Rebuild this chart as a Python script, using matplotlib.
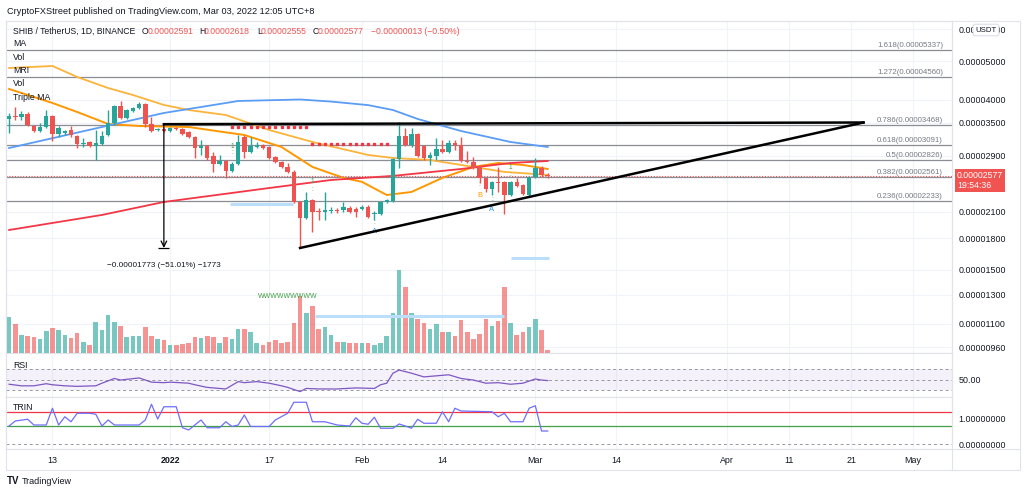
import numpy as np
import pandas as pd
import matplotlib
matplotlib.use("Agg")
import matplotlib.pyplot as plt
import matplotlib.dates as mdates
from matplotlib.ticker import NullLocator
from matplotlib.patches import Rectangle
from matplotlib.lines import Line2D

plt.rcParams['font.family'] = ['Liberation Sans', 'DejaVu Sans']

# ---- data (prices in units of 1e-8 USDT) ----
SCALE = 1e-8
start = "2021-12-06"
opens = [3580, 3644, 3623, 3687, 3440, 3342, 3420, 3644, 3285, 3304, 3362, 3247, 3101,
         3137, 3065, 3101, 3266, 3500, 3860, 3602, 3751, 3816, 3905, 3480, 3362, 3381,
         3342, 3401, 3381, 3323, 3229, 3030, 3065, 2894, 2764, 2812, 2655, 2764, 3229,
         2961, 3048, 3083, 3048, 2877, 2796, 2717, 2640, 2220, 2024, 2246, 2108, 2096,
         2108, 2120, 2120, 2144, 2132, 2132, 2157, 2072, 2072, 2220, 2233, 2844, 3247,
         3083, 3285, 3065, 2861, 2894, 3013, 2961, 3119, 3083, 2812, 2796, 2732, 2551,
         2395, 2493, 2493, 2311, 2493, 2451, 2311, 2565, 2701, 2591]
closes = [3650, 3623, 3687, 3460, 3342, 3420, 3644, 3285, 3401, 3342, 3266, 3101, 3119,
          3065, 3119, 3247, 3500, 3860, 3602, 3772, 3816, 3905, 3480, 3342, 3381, 3342,
          3401, 3381, 3285, 3229, 3030, 3065, 2861, 2764, 2812, 2655, 2764, 3137, 2961,
          3065, 3083, 3030, 2861, 2796, 2717, 2640, 2220, 2024, 2246, 2096, 2096, 2120,
          2120, 2108, 2157, 2096, 2096, 2157, 2036, 2084, 2220, 2246, 2844, 3247, 3083,
          3285, 2894, 2861, 2911, 3013, 2961, 3119, 3083, 2812, 2796, 2701, 2551, 2395,
          2493, 2479, 2311, 2493, 2437, 2325, 2565, 2701, 2590, 2577]
highs = [3700, 3838, 3751, 3730, 3460, 3500, 3772, 3665, 3440, 3362, 3440, 3266, 3210,
         3155, 3362, 3342, 3772, 3882, 3973, 3800, 3838, 3950, 3928, 3623, 3401, 3401,
         3420, 3420, 3401, 3342, 3247, 3173, 3083, 2961, 2911, 2828, 2796, 3266, 3266,
         3229, 3137, 3101, 3065, 2894, 2812, 2780, 2672, 2233, 2352, 2260, 2144, 2352,
         2157, 2144, 2220, 2170, 2157, 2183, 2183, 2108, 2233, 2260, 2861, 3520, 3401,
         3401, 3304, 3083, 2961, 3210, 3173, 3173, 3173, 3229, 2978, 2877, 2748, 2551,
         2508, 2717, 2508, 2508, 2551, 2465, 2580, 2861, 2732, 2618]
lows = [3300, 3561, 3561, 3440, 3323, 3323, 3401, 3155, 3229, 3266, 3229, 3030, 3048,
        3048, 2828, 3083, 3247, 3460, 3581, 3581, 3730, 3794, 3420, 3323, 3342, 3323,
        3323, 3362, 3266, 3210, 2861, 2911, 2828, 2640, 2748, 2551, 2640, 2748, 2861,
        2944, 3030, 3013, 2844, 2780, 2701, 2625, 2207, 1703, 2010, 1868, 2001, 2001,
        2084, 2084, 2096, 2084, 2036, 2120, 2024, 2001, 2060, 2207, 2220, 2701, 3065,
        3048, 2877, 2828, 2748, 2828, 2944, 2944, 2996, 2796, 2780, 2686, 2479, 2352,
        2311, 2352, 2072, 2297, 2423, 2311, 2283, 2551, 2565, 2555]
volumes = [36, 29, 18, 17, 16, 14, 22, 25, 23, 18, 15, 20, 11, 8, 31, 23, 38, 31, 27, 16,
           17, 17, 26, 17, 14, 13,
           8, 8, 9, 10, 16, 15, 17, 16, 10, 16, 14, 24, 24, 21, 10, 8, 11, 13, 10, 11,
           30, 57, 40, 47, 24, 26, 18, 11, 11, 10, 10, 10, 10, 8, 10, 17, 40, 83, 66, 40,
           34, 30, 24, 29, 21, 21, 17, 33, 21, 14, 19, 34, 27, 32, 66, 30, 18, 21, 26, 34,
           23, 3]

# moving averages (day offset from 2022-01-01, price)
ma_blue_days = [-26, -11, -1, 11, 21, 26, 32, 36, 40, 47, 55, 61]
ma_blue = [3030, 3420, 3708, 3973, 4008, 3960, 3880, 3772, 3582, 3342, 3137, 3048]
ma_red_days = [-26, -11, -1, 16, 26, 36, 47, 55, 61]
ma_red = [1889, 2060, 2220, 2406, 2520, 2580, 2685, 2779, 2812]
ma_fast_days = [-26, -19, -15, -10, -5, 3, 12, 18, 23, 28, 31, 35, 39, 44, 49, 53, 57, 61]
ma_fast = [4258, 3928, 3729, 3480, 3440, 3420, 3266, 3048, 2717, 2551, 2493, 2311, 2352,
           2551, 2717, 2779, 2748, 2685]
ma_slow_days = [-26, -19, -15, -10, -6, -1, 3, 9, 16, 23, 32, 36, 42, 47, 54, 61]
ma_slow = [4805, 4862, 4563, 4282, 4113, 3883, 3772, 3665, 3362, 3137, 2911, 2861, 2828,
           2748, 2640, 2595]

fib_levels = ["1.618", "1.272", "0.786", "0.618", "0.5", "0.382", "0.236"]
fib_prices = [5337, 4560, 3468, 3091, 2826, 2561, 2233]

rsi_days = [-26, -24, -22, -20, -19, -17, -15, -12, -11, -9, -8, -5, -3, -1, 0, 3, 4, 6, 8,
            9, 11, 12, 14, 16, 18, 19, 21, 22, 24, 27, 30, 33, 34, 35, 36, 37, 38, 39, 41,
            43, 45, 47, 49, 51, 53, 55, 57, 59, 60, 61]
rsi = [41, 38, 38, 42, 40, 38, 37, 38, 43, 52, 49, 53, 45, 44, 45, 43, 40, 35, 33, 32, 46,
       44, 46, 43, 38, 35, 27, 33, 32, 32, 34, 33, 40, 43, 62, 68, 65, 62, 55, 57, 59, 52,
       49, 43, 44, 41, 43, 51, 49, 48]

trin_days = [-26, -25, -23, -22, -20, -19, -18, -17, -16, -15, -13, -12, -11, -10, -9, -5,
             -4, -3, -2, -1, 1, 2, 3, 5, 6, 8, 9, 10, 11, 12, 13, 16, 17, 19, 20, 22, 23,
             25, 27, 29, 30, 31, 32, 33, 34, 36, 37, 38, 39, 40, 41, 43, 44, 45, 46, 47,
             52, 53, 54, 55, 57, 58, 59, 60, 61]
trin = [0.72, 0.92, 0.99, 0.76, 0.76, 1.43, 0.76, 1.09, 0.89, 1.23, 1.23, 1.19, 0.72,
        0.96, 0.76, 0.76, 0.96, 1.59, 1.0, 1.49, 1.49, 0.65, 0.56, 0.96, 0.65, 0.65, 0.89,
        0.70, 0.76, 1.16, 0.70, 0.70, 0.96, 1.23, 1.67, 1.67, 0.89, 0.89, 0.76, 0.72, 1.05,
        0.83, 0.79, 1.07, 0.63, 0.63, 0.80, 0.72, 0.63, 0.99, 0.83, 0.83, 1.29, 0.89, 1.43,
        1.32, 1.29, 1.09, 1.23, 0.89, 0.89, 1.43, 1.53, 0.52, 0.52]
trin_upper, trin_lower = 1.28, 0.72

price_ticks = [6000, 5000, 4000, 3500, 2900, 2100, 1800, 1500, 1300, 1100, 960]
tick_dates = ['2021-12-13', '2022-01-01', '2022-01-17', '2022-02-01', '2022-02-14',
              '2022-03-01', '2022-03-14', '2022-04-01', '2022-04-11', '2022-04-21',
              '2022-05-01']
tick_labels = ['13', '2022', '17', 'Feb', '14', 'Mar', '14', 'Apr', '11', '21', 'May']

dots_row1_days = list(range(10, 23))
dots_row2_days = list(range(23, 36))
dots_prices = [3420, 3101]

marks = [(10, 3048, '1', 'g'), (10, 2950, ':', 'g'), (23, 2493, '1', 'g'),
         (23, 2379, ':', 'g'), (55, 2701, '1', 'g'), (55, 2595, ':', 'g'),
         (50, 2451, ':', 'g'), (50, 2311, 'B', 'o'), (33, 1978, ':', 'g'),
         (33, 1868, 'A', 'b'), (52, 2246, ':', 'g'), (52, 2120, 'A', 'b')]

measure_top, measure_low = 3476, 1703
apex_day, apex_price = 112, 3510

# ---- colours ----
TEAL = '#26a69a'
RED = '#ef5350'
DARK = '#131722'
GRID = '#f0f3fa'
BORDER = '#e0e3eb'
MARK_COL = {'g': '#43a047', 'o': '#ff9800', 'b': '#2196f3'}

W, H = 1024, 497
fig = plt.figure(figsize=(W / 100, H / 100), dpi=100)


def fx(px):
    return px / W


def fy(py):
    return 1 - py / H


L, R = 6, 952
ax = fig.add_axes([fx(L), fy(353), fx(R) - fx(L), fy(21) - fy(353)])
axr = fig.add_axes([fx(L), fy(397), fx(R) - fx(L), fy(353) - fy(397)], sharex=ax)
axt = fig.add_axes([fx(L), fy(449), fx(R) - fx(L), fy(397) - fy(449)], sharex=ax)

base = mdates.date2num(pd.Timestamp('2022-01-01'))
dates = pd.date_range(start, periods=len(opens))
x = mdates.date2num(dates)
o = np.array(opens) * SCALE
c = np.array(closes) * SCALE
h = np.array(highs) * SCALE
lo = np.array(lows) * SCALE
col = np.where(c >= o, TEAL, RED)

ax.set_yscale('log')
ax.set_ylim(9.296e-6, 6.3007e-5)
ax.set_xlim(base - 26.5, base + 126.3)

# volume (behind candles)
axv = ax.twinx()
axv.set_ylim(0, 332)
axv.bar(x, volumes, width=0.74, color=col, alpha=0.62, linewidth=0)
axv.hlines(37, base + 23.4, base + 54, color='#bbdefb', lw=2.2)
axv.text(base + 19, 57, 'WWWWWWWWW', color='#43a047', fontsize=5, ha='center', va='center')
axv.set_yticks([])
for s in axv.spines.values():
    s.set_visible(False)

# fib levels
for lvl, p in zip(fib_levels, fib_prices):
    ax.axhline(p * SCALE, color='#8a8d96', lw=0.9, zorder=2)
    ax.text(0.9905, p * SCALE * 1.004, f"{lvl}({p * SCALE:.8f})", transform=ax.get_yaxis_transform(),
            ha='right', va='bottom', fontsize=5.7, color='#787b86', zorder=3)

# moving averages
ax.plot(base + np.array(ma_slow_days), np.array(ma_slow) * SCALE, color='#fbb33a', lw=1.3, zorder=3)
ax.plot(base + np.array(ma_fast_days), np.array(ma_fast) * SCALE, color='#ff9800', lw=1.4, zorder=3)
ax.plot(base + np.array(ma_blue_days), np.array(ma_blue) * SCALE, color='#5b9cf6', lw=1.3, zorder=3)
ax.plot(base + np.array(ma_red_days), np.array(ma_red) * SCALE, color='#f23645', lw=1.3, zorder=3)

# candles
ax.vlines(x, lo, h, colors=col, lw=1.0, zorder=4)
body = np.maximum(np.abs(c - o), o * 0.004)
ax.bar(x, body, bottom=np.minimum(o, c), width=0.72, color=col, linewidth=0, zorder=5)

# last price line
last = closes[-1] * SCALE
ax.axhline(last, color=RED, lw=0.8, ls=(0, (1, 1.5)), zorder=3)

# dotted markers
ax.plot(base + np.array(dots_row1_days), [dots_prices[0] * SCALE] * len(dots_row1_days),
        ls='none', marker='s', ms=1.8, color='#f23645', zorder=4)
ax.plot(base + np.array(dots_row2_days), [dots_prices[1] * SCALE] * len(dots_row2_days),
        ls='none', marker='s', ms=1.8, color='#f23645', zorder=4)
ax.hlines(2194 * SCALE, base + 9.7, base + 19.9, color='#bbdefb', lw=2.2, zorder=3)
ax.hlines(1608 * SCALE, base + 55, base + 61.2, color='#bbdefb', lw=2.2, zorder=3)

for d, p, t, k in marks:
    ax.text(base + d, p * SCALE, t, color=MARK_COL[k], fontsize=5.5 if t.isalpha() else 4.8,
            ha='center', va='center', zorder=6)

# triangle
ax.plot([base - 1, base + apex_day], [measure_top * SCALE, apex_price * SCALE],
        color='black', lw=1.8, zorder=6)
ax.plot([base + 21, base + apex_day], [measure_low * SCALE, apex_price * SCALE],
        color='black', lw=1.8, zorder=6)

# measure
ax.annotate('', xy=(base - 1, measure_low * SCALE), xytext=(base - 1, measure_top * SCALE),
            arrowprops=dict(arrowstyle='->', color='black', lw=0.9, shrinkA=0, shrinkB=0), zorder=6)
ax.hlines(measure_low * SCALE, base - 1.9, base - 0.1, color='black', lw=0.9, zorder=6)
diff = measure_low - measure_top
ax.text(base - 1, 1535 * SCALE,
        f"\u2212{abs(diff) * SCALE:.8f} (\u2212{abs(diff) / measure_top * 100:.2f}%) \u2212{abs(diff)}",
        ha='center', va='center', fontsize=5.9, color=DARK, zorder=6)

# price label
ax.annotate(f"{last:.8f}\n19:54:36", xy=(1, last), xycoords=('axes fraction', 'data'),
            xytext=(3.5, 3.5), textcoords='offset points', ha='left', va='top', color='white',
            fontsize=6.3, linespacing=1.15, annotation_clip=False, zorder=10,
            bbox=dict(boxstyle='square,pad=0.25', fc='#f05350', ec='none'))

# axis styling
tick_x = mdates.date2num(pd.to_datetime(tick_dates))
for a in (ax, axr, axt):
    a.set_xticks(tick_x)
    a.grid(True, color=GRID, lw=0.8, zorder=0)
    a.set_axisbelow(True)
    for s in a.spines.values():
        s.set_color(BORDER)
        s.set_linewidth(0.8)
    a.yaxis.tick_right()
    a.tick_params(axis='y', length=0, pad=4.5, labelsize=6.4, labelcolor=DARK)
    a.tick_params(axis='x', length=0)

ax.yaxis.set_minor_locator(NullLocator())
ax.set_yticks([p * SCALE for p in price_ticks])
ax.set_yticklabels([f"{p * SCALE:.8f}" for p in price_ticks])
ax.tick_params(axis='x', labelbottom=False)
axr.tick_params(axis='x', labelbottom=False)

# RSI
axr.set_ylim(16.7, 100.5)
axr.axhspan(30, 70, color='#7e57c2', alpha=0.08, lw=0)
for lvl in (70, 50, 30):
    axr.axhline(lvl, color='#9598a1', lw=0.7, ls=(0, (3, 3)))
axr.plot(base + np.array(rsi_days), rsi, color='#7e57c2', lw=0.9)
axr.set_yticks([50])
axr.set_yticklabels(['50.00'])
axr.grid(axis='y', visible=False)

# TRIN
axt.set_ylim(-0.2, 1.88)
axt.axhline(trin_upper, color='#f23645', lw=0.9)
axt.axhline(trin_lower, color='#43a047', lw=0.9)
axt.axhline(0, color='#9598a1', lw=0.7, ls=(0, (3, 3)))
axt.plot(base + np.array(trin_days), trin, color='#6f6ffc', lw=0.9)
axt.set_yticks([1.0, 0.0])
axt.set_yticklabels(['1.00000000', '0.00000000'])
axt.grid(axis='y', visible=False)
axt.set_xticklabels(tick_labels)
axt.tick_params(axis='x', labelsize=6.4, labelcolor=DARK, pad=5)
for t in axt.get_xticklabels():
    if t.get_text() == '2022':
        t.set_fontweight('bold')

# frame lines
fig.add_artist(Rectangle((fx(L), fy(470)), fx(1020) - fx(L), fy(21) - fy(470),
                         transform=fig.transFigure, fill=False, ec=BORDER, lw=0.8))
fig.add_artist(Line2D([fx(R), fx(R)], [fy(470), fy(21)], transform=fig.transFigure,
                      color=BORDER, lw=0.8))
fig.add_artist(Line2D([fx(L), fx(1020)], [fy(449), fy(449)], transform=fig.transFigure,
                      color=BORDER, lw=0.8))

# texts
fig.text(fx(7), fy(11), "CryptoFXStreet published on TradingView.com, Mar 03, 2022 12:05 UTC+8",
         fontsize=6.6, color=DARK, va='center')
chg = closes[-1] - closes[-2]
header = [(13, "SHIB / TetherUS, 1D, BINANCE", DARK), (142, "O", DARK),
          (148, f"{opens[-1] * SCALE:.8f}", RED), (199, "H", DARK),
          (204, f"{highs[-1] * SCALE:.8f}", RED), (257, "L", DARK),
          (261, f"{lows[-1] * SCALE:.8f}", RED), (313, "C", DARK),
          (318, f"{closes[-1] * SCALE:.8f}", RED),
          (371, f"\u2212{abs(chg) * SCALE:.8f} (\u2212{abs(chg) / closes[-2] * 100:.2f}%)", RED)]
for px, s, cc in header:
    fig.text(fx(px), fy(31), s, fontsize=6.2, color=cc, va='center')
for py, s in [(44, "MA"), (58, "Vol"), (71, "MRI"), (84, "Vol"), (97, "Triple MA"),
              (365, "RSI"), (408, "TRIN")]:
    fig.text(fx(13), fy(py), s, fontsize=6.3, color=DARK, va='center')

fig.text(fx(986), fy(30), "USDT", fontsize=5.6, color=DARK, ha='center', va='center',
         bbox=dict(boxstyle='round,pad=0.3', fc='white', ec='#d1d4dc', lw=0.6))
fig.text(fx(7), fy(481), "TV", fontsize=7, fontweight='bold', color=DARK, va='center')
fig.text(fx(22), fy(481), "TradingView", fontsize=6.5, color=DARK, va='center')

fig.savefig("out.png", dpi=100)
